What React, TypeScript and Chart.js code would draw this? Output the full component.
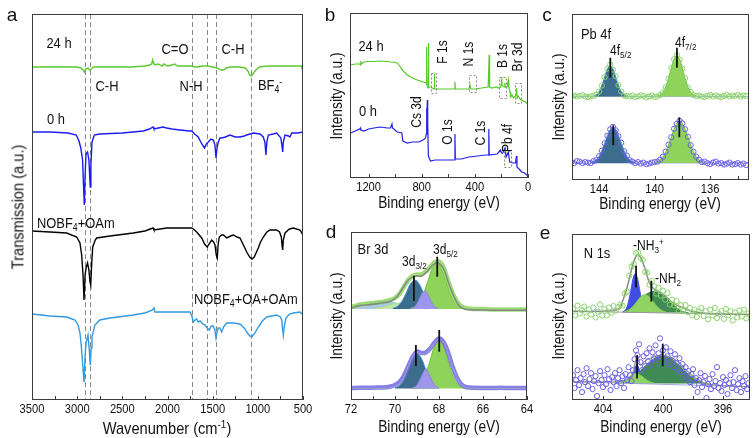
import React, { useEffect, useRef } from "react";
import { Chart, registerables } from "chart.js";

Chart.register(...registerables);

type Pt = [number, number];
type Rect = [number, number, number, number];

const FONT = 'Arial, "Liberation Sans", Helvetica, sans-serif';
const SQUEEZE = 0.86;

// ================= a : FTIR =================
const FTIR_MAJOR = [3500, 3000, 2500, 2000, 1500, 1000, 500];
const FTIR_MINOR = [3250, 2750, 2250, 1750, 1250, 750];
const FTIR_BANDS = [2918, 2856, 1725, 1562, 1463, 1076];

const ftir24h: Pt[] = [[3500,333],[3300,333],[3100,333],[3000,333],[2960,332],[2935,330],[2920,328],[2905,331],[2880,332],[2860,330],[2845,331],[2820,333],[2600,333],[2400,333],[2250,334],[2200,335],[2175,336],[2165,340],[2155,337],[2140,335],[2100,336],[2060,334],[2040,336],[2000,334],[1950,335],[1920,336],[1890,334],[1800,334],[1730,334],[1690,333],[1660,333],[1620,334],[1560,334],[1500,333],[1450,332],[1410,330],[1380,330],[1350,332],[1300,333],[1200,333],[1140,332],[1110,329],[1090,325],[1075,324],[1060,325],[1040,328],[1010,331],[980,333],[900,334],[800,334],[700,334],[600,334],[520,334],[508,331],[500,334]];

const ftir0h: Pt[] = [[3500,268],[3300,268],[3100,267],[3010,265],[2980,259],[2960,252],[2940,240],[2930,215],[2921,195],[2912,225],[2902,246],[2885,248],[2870,240],[2862,225],[2855,213],[2848,235],[2836,258],[2810,265],[2750,266],[2500,267],[2268,269],[2200,271],[2160,273],[2150,271],[2100,272],[2050,273],[2010,272],[1950,271],[1862,270],[1760,269],[1732,269],[1700,266],[1660,263],[1620,256],[1590,252],[1570,256],[1548,258],[1520,261],[1493,260],[1475,255],[1463,242],[1452,252],[1438,258],[1420,262],[1400,262],[1360,263],[1308,265],[1250,263],[1197,263],[1150,264],[1123,265],[1050,267],[976,266],[940,263],[922,258],[910,245],[900,258],[884,265],[830,266],[791,267],[745,262],[730,252],[725,248],[718,258],[700,265],[660,264],[644,263],[625,267],[560,267],[497,268]];

const ftirOAm: Pt[] = [[3500,169],[3300,168],[3116,167],[3005,163],[2969,157],[2950,145],[2935,125],[2924,100],[2912,125],[2902,132],[2885,137],[2870,130],[2858,118],[2850,115],[2840,135],[2828,153],[2800,160],[2784,162],[2637,164],[2379,167],[2250,169],[2160,172],[2150,170],[2009,172],[1850,172],[1732,172],[1700,170],[1677,168],[1621,162],[1590,156],[1560,153],[1548,155],[1511,160],[1490,158],[1474,155],[1460,145],[1449,142],[1440,155],[1427,163],[1400,165],[1380,165],[1345,162],[1300,164],[1272,165],[1230,163],[1197,162],[1160,155],[1123,148],[1090,143],[1065,141],[1040,143],[1010,149],[995,152],[970,158],[939,163],[900,168],[865,170],[791,170],[760,168],[740,163],[732,155],[725,150],[718,160],[699,167],[650,171],[607,172],[533,170],[514,167],[497,170]];

const ftirOAOAm: Pt[] = [[3500,86],[3300,84],[3116,83],[3024,80],[2990,75],[2969,67],[2955,55],[2943,40],[2924,18],[2912,45],[2902,57],[2880,65],[2866,50],[2855,35],[2845,52],[2836,63],[2803,75],[2750,80],[2637,82],[2379,85],[2250,87],[2165,90],[2150,92],[2140,88],[2009,88],[1900,88],[1751,88],[1730,84],[1714,78],[1695,80],[1677,81],[1660,78],[1640,79],[1610,76],[1585,75],[1560,72],[1537,70],[1515,74],[1493,74],[1475,70],[1463,62],[1452,68],[1438,72],[1420,72],[1400,68],[1380,73],[1345,77],[1272,77],[1197,76],[1150,72],[1123,68],[1090,64],[1068,63],[1040,66],[995,73],[950,79],[902,83],[791,85],[750,83],[736,80],[725,70],[718,65],[710,72],[688,82],[650,86],[607,87],[533,88],[510,86],[497,85]];

// ================= b : XPS survey =================
const SURVEY_MAJOR = [1200, 800, 400, 0];
const SURVEY_MINOR = [1000, 600, 200];
// dashed boxes: [eV from, eV to, intensity low, intensity high]
const SURVEY_BOXES: number[][] = [[733, 689, 85, 105],[445, 395, 86, 103],[220, 162, 80, 101],[99, 56, 75, 95],[177, 126, 11, 27]];

const survey24h: Pt[] = [[1336,113],[1300,114],[1268,114],[1262,113],[1259,117],[1255,114],[1235,116],[1200,116.5],[1160,116.5],[1110,117],[1060,116.5],[1035,116],[1000,115.5],[984,115],[960,111],[947,108],[909,103],[870,100],[834,98],[790,96],[766,95],[764,93],[762,131],[759,92],[752,90],[750,135],[747,91],[734,91],[720,90],[707,89],[705,104],[702,89],[683,89],[600,89],[553,89],[550,96],[547,89],[500,89],[445,89],[437,93],[430,89],[400,89],[350,90],[300,91],[295,91],[292,123],[289,91],[270,90],[240,91],[220,90],[205,91],[200,96],[198,101],[196,93],[180,91],[174,95],[171,91],[160,90],[148,98],[145,91],[135,86],[130,81],[120,83],[110,80],[95,82],[88,85],[85,90],[82,80],[75,82],[65,80],[50,78],[35,77],[20,76],[5,74.5],[0,74]];

const survey0h: Pt[] = [[1336,45],[1300,47],[1268,49],[1262,50],[1259,48],[1235,47],[1200,49],[1160,50],[1110,51],[1060,50],[1035,50],[1024,54],[1020,50],[984,46],[950,45],[942,37],[909,35],[870,36],[821,36],[790,38],[771,40],[766,44],[764,70],[761,48],[758,78],[755,55],[750,22],[734,17],[700,18],[583,18],[553,18],[550,44],[547,19],[500,19],[445,21],[380,22],[320,23],[298,23],[295,49],[292,23],[232,24],[207,28],[200,25],[190,25],[173,30],[165,21],[148,26],[138,16],[110,15],[94,15],[87,22],[83,11],[60,8],[47,6],[25,5],[10,3],[0,3]];

// ================= c : Pb 4f =================
const PB_MAJOR = [144, 140, 136];
const PB_MINOR = [142, 138, 134];
const PB_EV = [146.0,145.8,145.6,145.4,145.2,145.0,144.8,144.6,144.4,144.2,144.0,143.8,143.6,143.4,143.2,143.0,142.8,142.6,142.4,142.2,142.0,141.8,141.6,141.4,141.2,141.0,140.8,140.6,140.4,140.2,140.0,139.8,139.6,139.4,139.2,139.0,138.8,138.6,138.4,138.2,138.0,137.8,137.6,137.4,137.2,137.0,136.8,136.6,136.4,136.2,136.0,135.8,135.6,135.4,135.2,135.0,134.8,134.6,134.4,134.2,134.0,133.8,133.6,133.4];
const pb24hCounts = [84.5,85,84,84.5,85.5,84,83.5,84,84.5,86,89,95,103.5,112,116,111,104.5,95.5,89,85,84.5,84,85,83.5,84,85,84.5,83,84,85,83.5,84,85.5,88,93.5,102,112.5,121.5,125.5,121,112,102.5,93,88.5,85.5,84.5,85,84,83.5,84.5,85.5,84,85,84,83.5,84.5,85.5,84,85,84.5,85.5,84,85,84.5];
const pb0hCounts = [18,17,19,18.5,17,18,17.5,17,19,20,24,29.5,37,44.5,51,53.5,50,44,37.5,29,24.5,20,18.5,17,18,16.5,17.5,16,16.5,17.5,18,18.5,20.5,23.5,28.5,35.5,43,51.5,56.5,59.5,57,51,43.5,35,28.5,23.5,20.5,18,18.5,17,16,17.5,18.5,16.5,17,15.5,16.5,17.5,15.5,16,17,15.5,16.5,15];
const pb24h52: Pt[] = [[144.4,84.5],[144.2,85.8],[144.0,89],[143.8,95.2],[143.6,103.7],[143.4,111.7],[143.2,115],[143.0,111.7],[142.8,103.7],[142.6,95.2],[142.4,89],[142.2,85.8],[142.0,84.5]];
const pb24h72: Pt[] = [[139.8,84.5],[139.6,85.6],[139.4,88.3],[139.2,93.6],[139.0,102.2],[138.8,112.5],[138.6,121.4],[138.4,125],[138.2,121.4],[138.0,112.5],[137.8,102.2],[137.6,93.6],[137.4,88.3],[137.2,85.6],[137.0,84.5]];
const pb0h52: Pt[] = [[144.6,17.5],[144.4,18.4],[144.2,20.3],[144.0,23.9],[143.8,29.5],[143.6,36.9],[143.4,44.6],[143.2,50.7],[143.0,53],[142.8,50.7],[142.6,44.6],[142.4,36.9],[142.2,29.5],[142.0,23.9],[141.8,20.3],[141.6,18.4],[141.4,17.5]];
const pb0h72: Pt[] = [[140.0,17.6],[139.8,18.5],[139.6,20.3],[139.4,23.5],[139.2,28.4],[139.0,35.3],[138.8,43.3],[138.6,51.1],[138.4,56.9],[138.2,59],[138.0,56.9],[137.8,51.1],[137.6,43.3],[137.4,35.3],[137.2,28.4],[137.0,23.5],[136.8,20.3],[136.6,18.5],[136.4,17.6]];
const PB_BASE_24H = 84;
const PB_BASE_0H = 17;
const pbMarks: Pt[][] = [[[143.19,103],[143.19,123]],[[138.39,113],[138.39,133]],[[142.98,35],[142.98,55]],[[138.22,43],[138.22,63]]];

// ================= d : Br 3d =================
const BR_MAJOR = [72, 70, 68, 66, 64];
const BR_MINOR = [71, 69, 67, 65];
const BR_BASE_24H = 91;
const BR_BASE_0H = 11.5;
const br24hData: Pt[] = [[72,93],[71.8,94],[71.6,95.5],[71.4,96],[71.2,96.5],[71,97],[70.8,97.5],[70.6,98],[70.4,99],[70.2,100],[70,102],[69.8,106],[69.6,113],[69.4,120],[69.2,124],[69,125.5],[68.8,125.5],[68.6,128.5],[68.4,133],[68.2,137.5],[68,138.5],[67.8,133],[67.6,120],[67.4,108],[67.2,99],[67,94],[66.8,92],[66.6,91.5],[66.4,91],[66,91],[65.6,90.5],[65.2,90.5],[64.8,90.5],[64.4,90.5],[64,90.5]];
const br24hFit: Pt[] = [[72,92],[71.6,94.5],[71.14,95.5],[70.68,96.8],[70.23,98.5],[69.92,103],[69.7,110],[69.47,118],[69.24,122.5],[69.01,124],[68.79,124],[68.56,128],[68.33,134],[68.08,137.5],[67.8,131.5],[67.58,118],[67.35,105],[67.12,95],[66.82,91],[66,90],[64,89.7]];
const br24hBroadA: Pt[] = [[72,92],[71.7,93.1],[71.3,95.2],[70.9,97.5],[70.5,98.5],[70.1,97.5],[69.7,95.2],[69.3,93.1],[68.9,91.8],[68.5,91.2]];
const br24hBroadB: Pt[] = [[71.0,91.3],[70.7,92.2],[70.4,93.9],[70.1,96],[69.8,97],[69.5,96],[69.2,93.9],[68.9,92.2],[68.6,91.3]];
const br24h32: Pt[] = [[70.1,91.6],[69.9,93.5],[69.7,98.3],[69.5,106.7],[69.3,115.9],[69.1,120],[68.9,115.9],[68.7,106.7],[68.5,98.3],[68.3,93.5],[68.1,91.6]];
const br24h52: Pt[] = [[69.3,91.6],[69.1,93.2],[68.9,97.6],[68.7,106.5],[68.5,119.3],[68.3,131.7],[68.1,137],[67.9,131.7],[67.7,119.3],[67.5,106.5],[67.3,97.6],[67.1,93.2],[66.9,91.6]];
const br24hMid: Pt[] = [[69.25,91.5],[69.15,92.5],[69.05,94.6],[68.95,98.3],[68.85,103.1],[68.75,107.3],[68.65,109],[68.55,107.3],[68.45,103.1],[68.35,98.3],[68.25,94.6],[68.15,92.5],[68.05,91.5]];
const br0hData: Pt[] = [[72,12],[71.6,12.2],[71.2,12.3],[70.8,12.4],[70.4,12.8],[70.2,13.5],[70,15],[69.8,18],[69.6,24],[69.4,33.5],[69.2,43],[69,48.5],[68.8,47],[68.6,47.5],[68.4,51.5],[68.2,57.5],[68,61.5],[67.8,58],[67.6,48.5],[67.4,34.5],[67.2,23],[67,16],[66.8,13.2],[66.6,12.5],[66.4,12.2],[66,12],[65.6,12],[65.2,12.2],[64.8,12],[64.4,12.1],[64,12]];
const br0hFit: Pt[] = [[72,11.7],[70.5,11.7],[70.05,13.3],[69.7,18.3],[69.47,30],[69.24,41.7],[69,47.7],[68.79,46],[68.53,47.7],[68.26,55],[67.99,60.7],[67.73,55],[67.5,40],[67.27,26.7],[67.05,16.7],[66.74,12.3],[66,11.7],[64,11.7]];
const br0h32: Pt[] = [[70.0,12.2],[69.8,14.5],[69.6,20.3],[69.4,30.4],[69.2,41.5],[69.0,46.5],[68.8,41.5],[68.6,30.4],[68.4,20.3],[68.2,14.5],[68.0,12.2]];
const br0h52: Pt[] = [[69.2,11.9],[69.0,13.2],[68.8,17.3],[68.6,26.1],[68.4,40],[68.2,53.9],[68.0,60],[67.8,53.9],[67.6,40],[67.4,26.1],[67.2,17.3],[67.0,13.2],[66.8,11.9]];
const br0hMid: Pt[] = [[69.2,12],[69.1,13],[69.0,15.1],[68.9,18.8],[68.8,23.6],[68.7,27.8],[68.6,31.5],[68.5,27.8],[68.4,23.6],[68.3,18.8],[68.2,15.1],[68.1,13],[68.0,12]];
const brMarks: Pt[][] = [[[69.14,99],[69.14,124.3]],[[68.08,123.3],[68.08,143.3]],[[69.05,34],[69.05,55]],[[67.99,48.3],[67.99,70]]];

// ================= e : N 1s =================
const N_MAJOR = [404, 400, 396];
const N_MINOR = [402, 398];
const N_BASE_24H = 88;
const N_BASE_0H = 16.5;
const n24hDots: Pt[] = [[406.0,92],[405.85,85],[405.7,95],[405.55,87],[405.4,90],[405.25,94],[405.1,84],[404.95,91],[404.8,86],[404.65,93],[404.5,83],[404.35,89],[404.2,96],[404.05,85],[403.9,91.5],[403.75,85],[403.6,93],[403.45,88],[403.3,94.5],[403.15,90],[403.0,93.5],[402.85,96],[402.7,95],[402.55,107],[402.4,109],[402.25,125],[402.1,134],[401.95,137],[401.8,148],[401.65,148.5],[401.5,143],[401.35,141],[401.2,129],[401.05,128],[400.9,116],[400.75,120],[400.6,114.5],[400.45,107],[400.3,113],[400.15,105],[400.0,110],[399.85,101],[399.7,107.5],[399.55,96],[399.4,101],[399.25,95],[399.1,99.5],[398.95,89.5],[398.8,95.5],[398.65,89.5],[398.5,95.5],[398.35,88.5],[398.2,92.5],[398.05,85.3],[397.9,91],[397.75,83.5],[397.6,89],[397.45,92.5],[397.3,84.5],[397.15,89.3],[397.0,81],[396.85,91],[396.7,85],[396.55,92.5],[396.4,82.5],[396.25,86.5],[396.1,89.5],[395.95,81.5],[395.8,91.5],[395.65,85.4],[395.5,89.3],[395.35,80],[395.2,88],[395.05,83],[394.9,90],[394.75,84],[394.6,91],[394.45,82],[394.3,87]];
const n0hDots: Pt[] = [[406.0,25],[405.9,12],[405.8,20],[405.7,30],[405.6,15],[405.5,22],[405.4,8],[405.3,26],[405.2,18],[405.1,32],[405.0,14],[404.9,21],[404.8,27],[404.7,11],[404.6,19],[404.5,24],[404.4,4],[404.3,17],[404.2,29],[404.1,20],[404.0,13],[403.9,25],[403.8,16],[403.7,31],[403.6,21],[403.5,10],[403.4,23],[403.3,18],[403.2,27],[403.1,14],[403.0,22],[402.9,30],[402.8,17],[402.7,24],[402.6,12],[402.5,26],[402.4,20],[402.3,33],[402.2,25],[402.1,19],[402.0,30],[401.9,41],[401.8,50],[401.7,45],[401.6,56],[401.5,38],[401.4,30],[401.3,44],[401.2,34],[401.1,47],[401.0,39],[400.9,52],[400.8,36],[400.7,48],[400.6,42],[400.5,55],[400.4,40],[400.3,47],[400.2,62],[400.1,43],[400.0,50],[399.9,38],[399.8,53],[399.7,44],[399.6,36],[399.5,49],[399.4,40],[399.3,33],[399.2,46],[399.1,37],[399.0,30],[398.9,42],[398.8,28],[398.7,36],[398.6,25],[398.5,33],[398.4,21],[398.3,29],[398.2,18],[398.1,26],[398.0,31],[397.9,15],[397.8,22],[397.7,8],[397.6,20],[397.5,27],[397.4,13],[397.3,18],[397.2,24],[397.1,2],[397.0,16],[396.9,21],[396.8,11],[396.7,26],[396.6,14],[396.5,19],[396.4,33],[396.3,12],[396.2,17],[396.1,9],[396.0,23],[395.9,15],[395.8,20],[395.7,6],[395.6,17],[395.5,25],[395.4,12],[395.3,18],[395.2,30],[395.1,10],[395.0,16],[394.9,22],[394.8,8],[394.7,19],[394.6,14],[394.5,24],[394.4,11],[394.3,17]];
const n24hFit: Pt[] = [[406.07,89.3],[404.5,89.2],[403.4,90],[402.9,92],[402.73,98],[402.4,113],[402.07,133],[401.85,143],[401.67,146.5],[401.45,142],[401.29,136],[401.1,127],[400.96,120],[400.75,114],[400.51,110.5],[400.07,106.5],[399.7,102.5],[399.4,98.3],[398.73,93],[398.07,89.3],[397.18,87.3],[396,86.5],[394.2,86]];
const n0hFit: Pt[] = [[406.07,18.5],[404,18.2],[403,18.5],[402.5,20],[402.2,23],[402,28],[401.85,38],[401.72,45],[401.6,40],[401.5,35],[401.3,38],[401,41],[400.5,44],[400,45],[399.5,43],[399,38.5],[398.5,31],[398,24],[397.5,19],[397,16],[396,14.5],[394.2,13.3]];
const n24hLine: Pt[] = [[406.07,89.3],[394.2,86]];
const n0hLine: Pt[] = [[406.07,18.3],[394.2,13.3]];
const n24hNH3: Pt[] = [[402.65,88.7],[402.55,89.8],[402.45,92.1],[402.35,96.2],[402.25,102.4],[402.15,110.2],[402.05,118.4],[401.95,124.7],[401.85,127],[401.75,124.7],[401.65,118.4],[401.55,110.2],[401.45,102.4],[401.35,96.2],[401.25,92.1],[401.15,89.8],[401.05,88.7]];
const n24hLight: Pt[] = [[402.6,88.7],[402.4,89.6],[402.2,91.4],[402.0,94.2],[401.8,97.9],[401.6,101.8],[401.4,104.8],[401.2,106],[401.0,104.8],[400.8,101.8],[400.6,97.9],[400.4,94.2],[400.2,91.4],[400.0,89.6],[399.8,88.7]];
const n24hNH2: Pt[] = [[402.7,88.9],[402.5,89.5],[402.3,90.6],[402.1,92.5],[401.9,94.7],[401.7,97.5],[401.5,100.7],[401.3,103.9],[401.1,106.4],[400.9,108.2],[400.7,109.1],[400.5,109.6],[400.3,109],[400.1,107.6],[399.9,105.2],[399.7,102.4],[399.5,99],[399.3,95.8],[399.1,92.8],[398.9,90.6],[398.7,89],[398.5,88.2],[398.3,87.7]];
const n0hNH3: Pt[] = [[402.25,17.3],[402.15,19.1],[402.05,22.7],[401.95,28],[401.85,33.3],[401.75,35.5],[401.65,33.3],[401.55,28],[401.45,22.7],[401.35,19.1],[401.25,17.3]];
const n0hLight: Pt[] = [[403.0,17.1],[402.8,17.9],[402.6,19.3],[402.4,21.4],[402.2,23.8],[402.0,25.7],[401.8,26.5],[401.6,25.7],[401.4,23.8],[401.2,21.4],[401.0,19.3],[400.8,17.9],[400.6,17.1]];
const n0hNH2: Pt[] = [[403.2,17.9],[402.8,18.8],[402.4,20.7],[402.0,23.9],[401.6,28.3],[401.2,33.9],[400.8,39.3],[400.4,43.3],[400.0,44.75],[399.6,43],[399.2,38.6],[398.8,32.9],[398.4,27],[398.0,22.2],[397.6,18.6],[397.2,16.5],[396.8,15.2]];
const nMarks: Pt[][] = [[[401.8,113.3],[401.8,135]],[[400.78,99],[400.78,120]],[[401.73,21.7],[401.73,45]],[[400.02,34],[400.02,56.7]]];

// ================= helpers =================
const xy = (pts: Pt[]) => pts.map(([x, y]) => ({ x, y }));
const zip = (xs: number[], ys: number[]): Pt[] => xs.map((x, i) => [x, ys[i]]);
const trace = (pts: Pt[], color: string, width: number, tension = 0) => ({
  data: xy(pts), borderColor: color, borderWidth: width, pointRadius: 0, tension, fill: false,
});
const peak = (pts: Pt[], fillColor: string, edge: string, base: number) => ({
  data: xy(pts), borderColor: edge, borderWidth: 1, backgroundColor: fillColor,
  fill: { value: base }, pointRadius: 0, tension: 0.4,
});
const dots = (pts: Pt[], color: string, r = 2.6) => ({
  data: xy(pts), showLine: false, borderColor: color, backgroundColor: "rgba(0,0,0,0)",
  pointRadius: r, pointBorderWidth: 1, pointBorderColor: color, pointBackgroundColor: "rgba(0,0,0,0)",
});
const marks = (list: Pt[][]) => list.map((m) => trace(m, "#111", 1.8));
const layered = (list: any[]) => list.map((d, i) => ({ ...d, order: list.length - i }));

const PAD_X = 22, PAD_T = 4, PAD_B = 24;

type PanelProps = {
  rect: Rect;
  xr: [number, number];
  yMax: number;
  datasets: any[];
  major: number[];
  minor: number[];
  vlines?: number[];
  boxes?: number[][];
  tickFont: number;
};

function makeDecor(p: PanelProps) {
  return {
    id: "decor",
    beforeDatasetsDraw(chart: any) {
      const { ctx, chartArea: a, scales } = chart;
      if (!p.vlines) return;
      ctx.save();
      ctx.strokeStyle = "#8a8a8a";
      ctx.lineWidth = 1;
      ctx.setLineDash([5, 3]);
      for (const v of p.vlines) {
        const px = Math.round(scales.x.getPixelForValue(v)) + 0.5;
        ctx.beginPath();
        ctx.moveTo(px, a.top);
        ctx.lineTo(px, a.bottom);
        ctx.stroke();
      }
      ctx.restore();
    },
    afterDatasetsDraw(chart: any) {
      const { ctx, scales } = chart;
      if (!p.boxes) return;
      ctx.save();
      ctx.strokeStyle = "#8a8a8a";
      ctx.lineWidth = 1;
      ctx.setLineDash([2, 2]);
      for (const [x1, x2, y1, y2] of p.boxes) {
        const l = Math.round(scales.x.getPixelForValue(x1)) + 0.5;
        const r = Math.round(scales.x.getPixelForValue(x2)) + 0.5;
        const t = Math.round(scales.y.getPixelForValue(y2)) + 0.5;
        const b = Math.round(scales.y.getPixelForValue(y1)) + 0.5;
        ctx.strokeRect(l, t, r - l, b - t);
      }
      ctx.restore();
    },
    afterDraw(chart: any) {
      const { ctx, chartArea: a, scales } = chart;
      ctx.save();
      ctx.strokeStyle = "#3c3c3c";
      ctx.lineWidth = 1;
      ctx.strokeRect(a.left + 0.5, a.top + 0.5, a.right - a.left - 1, a.bottom - a.top - 1);
      ctx.beginPath();
      for (const v of [...p.major, ...p.minor]) {
        const px = Math.round(scales.x.getPixelForValue(v)) + 0.5;
        ctx.moveTo(px, a.bottom);
        ctx.lineTo(px, a.bottom - 4);
      }
      ctx.stroke();
      ctx.fillStyle = "#111";
      ctx.font = `${p.tickFont}px ${FONT}`;
      ctx.textAlign = "center";
      ctx.textBaseline = "middle";
      for (const v of p.major) {
        const px = scales.x.getPixelForValue(v);
        ctx.save();
        ctx.translate(px, a.bottom + 9.5);
        ctx.scale(SQUEEZE, 1);
        ctx.fillText(String(v), 0, 0);
        ctx.restore();
      }
      ctx.restore();
    },
  };
}

function Panel(p: PanelProps) {
  const ref = useRef<HTMLCanvasElement>(null);
  const [L, T, R, B] = p.rect;
  useEffect(() => {
    const chart = new Chart(ref.current as HTMLCanvasElement, {
      type: "line",
      data: { datasets: p.datasets },
      options: {
        animation: false,
        responsive: false,
        events: [],
        layout: { padding: { left: PAD_X, right: PAD_X, top: PAD_T, bottom: PAD_B } },
        scales: {
          x: { type: "linear", display: false, min: p.xr[0], max: p.xr[1], reverse: true },
          y: { type: "linear", display: false, min: 0, max: p.yMax },
        },
        plugins: { legend: { display: false }, tooltip: { enabled: false } },
      } as any,
      plugins: [makeDecor(p)],
    });
    return () => chart.destroy();
  }, []);
  return (
    <canvas
      ref={ref}
      width={R - L + 2 * PAD_X}
      height={B - T + PAD_T + PAD_B}
      style={{ position: "absolute", left: L - PAD_X, top: T - PAD_T }}
    />
  );
}

function Txt({ x, y, size = 15, rot = false, left = false, sq = SQUEEZE, children }: any) {
  const style: React.CSSProperties = {
    position: "absolute",
    left: x,
    top: y,
    fontSize: size,
    lineHeight: 1,
    whiteSpace: "nowrap",
    color: "#111",
    transform: left
      ? `translate(0,-50%) scaleX(${sq})`
      : `translate(-50%,-50%) ${rot ? "rotate(-90deg) " : ""}scaleX(${sq})`,
    transformOrigin: left ? "0 50%" : "50% 50%",
  };
  return <div style={style}>{children}</div>;
}
const Sub = ({ children }: any) => (
  <span style={{ fontSize: "0.68em", position: "relative", top: "0.32em" }}>{children}</span>
);
const Sup = ({ children }: any) => (
  <span style={{ fontSize: "0.68em", position: "relative", top: "-0.5em" }}>{children}</span>
);

// colours
const TEAL = "#3d6d8d", TEAL_EDGE = "#3f8fd6";
const LGREEN = "#8fd35a", LGREEN_EDGE = "#72c23c";
const PURPLE = "#9d96ea";

export default function App() {
  const aSets = layered([
    trace(ftir24h, "#5cc92f", 1.4),
    trace(ftir0h, "#1c1cf0", 1.4),
    trace(ftirOAm, "#000000", 1.4),
    trace(ftirOAOAm, "#3399e0", 1.4),
  ]);
  const bSets = layered([
    trace(survey24h, "#55c928", 1.2),
    trace(survey0h, "#2020e6", 1.2),
  ]);
  const cSets = layered([
    trace([[146, PB_BASE_24H], [133.2, PB_BASE_24H]], "#a9bbd8", 1),
    trace([[146, PB_BASE_0H], [133.2, PB_BASE_0H]], "#a9bbd8", 1),
    peak(pb24h52, TEAL, TEAL_EDGE, PB_BASE_24H),
    peak(pb24h72, LGREEN, LGREEN_EDGE, PB_BASE_24H),
    peak(pb0h52, TEAL, TEAL_EDGE, PB_BASE_0H),
    peak(pb0h72, LGREEN, LGREEN_EDGE, PB_BASE_0H),
    dots(zip(PB_EV, pb24hCounts), "#8bd46c"),
    dots(zip(PB_EV, pb0hCounts), "#6a5fe6"),
    ...marks(pbMarks),
  ]);
  const dSets = layered([
    peak(br24hBroadA, "#a9c9e4", "#9cc0e0", BR_BASE_24H),
    peak(br24hBroadB, "#bfe6a3", "#b0dc92", BR_BASE_24H),
    peak(br24h32, TEAL, TEAL_EDGE, BR_BASE_24H),
    peak(br24h52, LGREEN, LGREEN_EDGE, BR_BASE_24H),
    peak(br24hMid, PURPLE, "#8d85e4", BR_BASE_24H),
    trace(br24hData, "rgba(138,214,95,0.85)", 4.5, 0.3),
    trace(br24hFit, "#858585", 1.4, 0.35),
    peak(br0h32, TEAL, TEAL_EDGE, BR_BASE_0H),
    peak(br0h52, LGREEN, LGREEN_EDGE, BR_BASE_0H),
    peak(br0hMid, PURPLE, "#8d85e4", BR_BASE_0H),
    trace(br0hData, "rgba(112,102,228,0.85)", 4.5, 0.3),
    trace(br0hFit, "#9a9ad0", 1.2, 0.35),
    ...marks(brMarks),
  ]);
  const eSets = layered([
    peak(n24hNH3, "#3f4de3", "#3f4de3", N_BASE_24H),
    peak(n24hNH2, "#3f8a55", "#3f8a55", N_BASE_24H),
    peak(n24hLight, "#8fd462", "#86cc5a", N_BASE_24H),
    trace(n24hLine, "#9a9a9a", 1),
    trace(n24hFit, "#8a8a8a", 1.5, 0.35),
    peak(n0hNH3, "#3f4de3", "#3f4de3", N_BASE_0H),
    peak(n0hNH2, "#3f8a55", "#3f8a55", N_BASE_0H),
    peak(n0hLight, "#8fd462", "#86cc5a", N_BASE_0H),
    trace(n0hLine, "#a3a8dc", 1),
    trace(n0hFit, "#9a9a9a", 1.3, 0.35),
    dots(n24hDots, "#8bd46c"),
    dots(n0hDots, "#6a5fe6"),
    ...marks(nMarks),
  ]);

  return (
    <div
      style={{
        position: "absolute", left: 0, top: 0, width: 756, height: 438,
        background: "#fff", overflow: "hidden", fontFamily: FONT,
      }}
    >
      <Panel rect={[32, 14, 303, 400]} xr={[500, 3500]} yMax={386} datasets={aSets}
        major={FTIR_MAJOR} minor={FTIR_MINOR} vlines={FTIR_BANDS} tickFont={13} />
      <Panel rect={[350, 13, 528, 178]} xr={[0, 1340]} yMax={165} datasets={bSets}
        major={SURVEY_MAJOR} minor={SURVEY_MINOR} boxes={SURVEY_BOXES} tickFont={13} />
      <Panel rect={[572, 13, 749, 180]} xr={[133.2, 145.95]} yMax={167} datasets={cSets}
        major={PB_MAJOR} minor={PB_MINOR} tickFont={13} />
      <Panel rect={[351, 232, 527, 400]} xr={[64, 72]} yMax={168} datasets={dSets}
        major={BR_MAJOR} minor={BR_MINOR} tickFont={13} />
      <Panel rect={[572, 233, 750, 400]} xr={[394.2, 406.07]} yMax={167} datasets={eSets}
        major={N_MAJOR} minor={N_MINOR} tickFont={13} />

      {/* panel letters */}
      <Txt x={12} y={14} size={19} sq={1}>a</Txt>
      <Txt x={330} y={14} size={19} sq={1}>b</Txt>
      <Txt x={547} y={14} size={19} sq={1}>c</Txt>
      <Txt x={331} y={231} size={19} sq={1}>d</Txt>
      <Txt x={545} y={232} size={19} sq={1}>e</Txt>

      {/* a */}
      <Txt x={59} y={42}>24 h</Txt>
      <Txt x={175} y={48}>C=O</Txt>
      <Txt x={233} y={48}>C-H</Txt>
      <Txt x={107} y={85}>C-H</Txt>
      <Txt x={191} y={85}>N-H</Txt>
      <Txt x={258} y={85} left>BF<Sub>4</Sub><Sup>-</Sup></Txt>
      <Txt x={56} y={118}>0 h</Txt>
      <Txt x={37} y={223} left>NOBF<Sub>4</Sub>+OAm</Txt>
      <Txt x={194} y={299} left>NOBF<Sub>4</Sub>+OA+OAm</Txt>
      <Txt x={18} y={207} size={17} rot>Transmission (a.u.)</Txt>
      <Txt x={167} y={428} size={17}>Wavenumber (cm<Sup>-1</Sup>)</Txt>

      {/* b */}
      <Txt x={371} y={45}>24 h</Txt>
      <Txt x={368} y={110}>0 h</Txt>
      <Txt x={442} y={52} size={14} rot>F 1s</Txt>
      <Txt x={468} y={54} size={14} rot>N 1s</Txt>
      <Txt x={502} y={56} size={14} rot>B 1s</Txt>
      <Txt x={517} y={57} size={14} rot>Br 3d</Txt>
      <Txt x={416} y={112} size={14} rot>Cs 3d</Txt>
      <Txt x={447} y={132} size={14} rot>O 1s</Txt>
      <Txt x={480} y={133} size={14} rot>C 1s</Txt>
      <Txt x={507} y={138} size={14} rot>Pb 4f</Txt>
      <Txt x={337} y={96} size={16} rot>Intensity (a.u.)</Txt>
      <Txt x={439} y={203} size={16}>Binding energy (eV)</Txt>

      {/* c */}
      <Txt x={596} y={33}>Pb 4f</Txt>
      <Txt x={610} y={50} size={14} left>4f<Sub>5/2</Sub></Txt>
      <Txt x={675} y={42} size={14} left>4f<Sub>7/2</Sub></Txt>
      <Txt x={559} y={97} size={16} rot>Intensity (a.u.)</Txt>
      <Txt x={660} y={204} size={16}>Binding energy (eV)</Txt>

      {/* d */}
      <Txt x={373} y={248}>Br 3d</Txt>
      <Txt x={402} y={261} size={14} left>3d<Sub>3/2</Sub></Txt>
      <Txt x={433} y={249} size={14} left>3d<Sub>5/2</Sub></Txt>
      <Txt x={337} y={316} size={16} rot>Intensity (a.u.)</Txt>
      <Txt x={439} y={427} size={16}>Binding energy (eV)</Txt>

      {/* e */}
      <Txt x={597} y={252}>N 1s</Txt>
      <Txt x={633} y={245} size={14} left>-NH<Sub>3</Sub><Sup>+</Sup></Txt>
      <Txt x={655} y={278} size={14} left>-NH<Sub>2</Sub></Txt>
      <Txt x={559} y={316} size={16} rot>Intensity (a.u.)</Txt>
      <Txt x={661} y={427} size={16}>Binding energy (eV)</Txt>
    </div>
  );
}
